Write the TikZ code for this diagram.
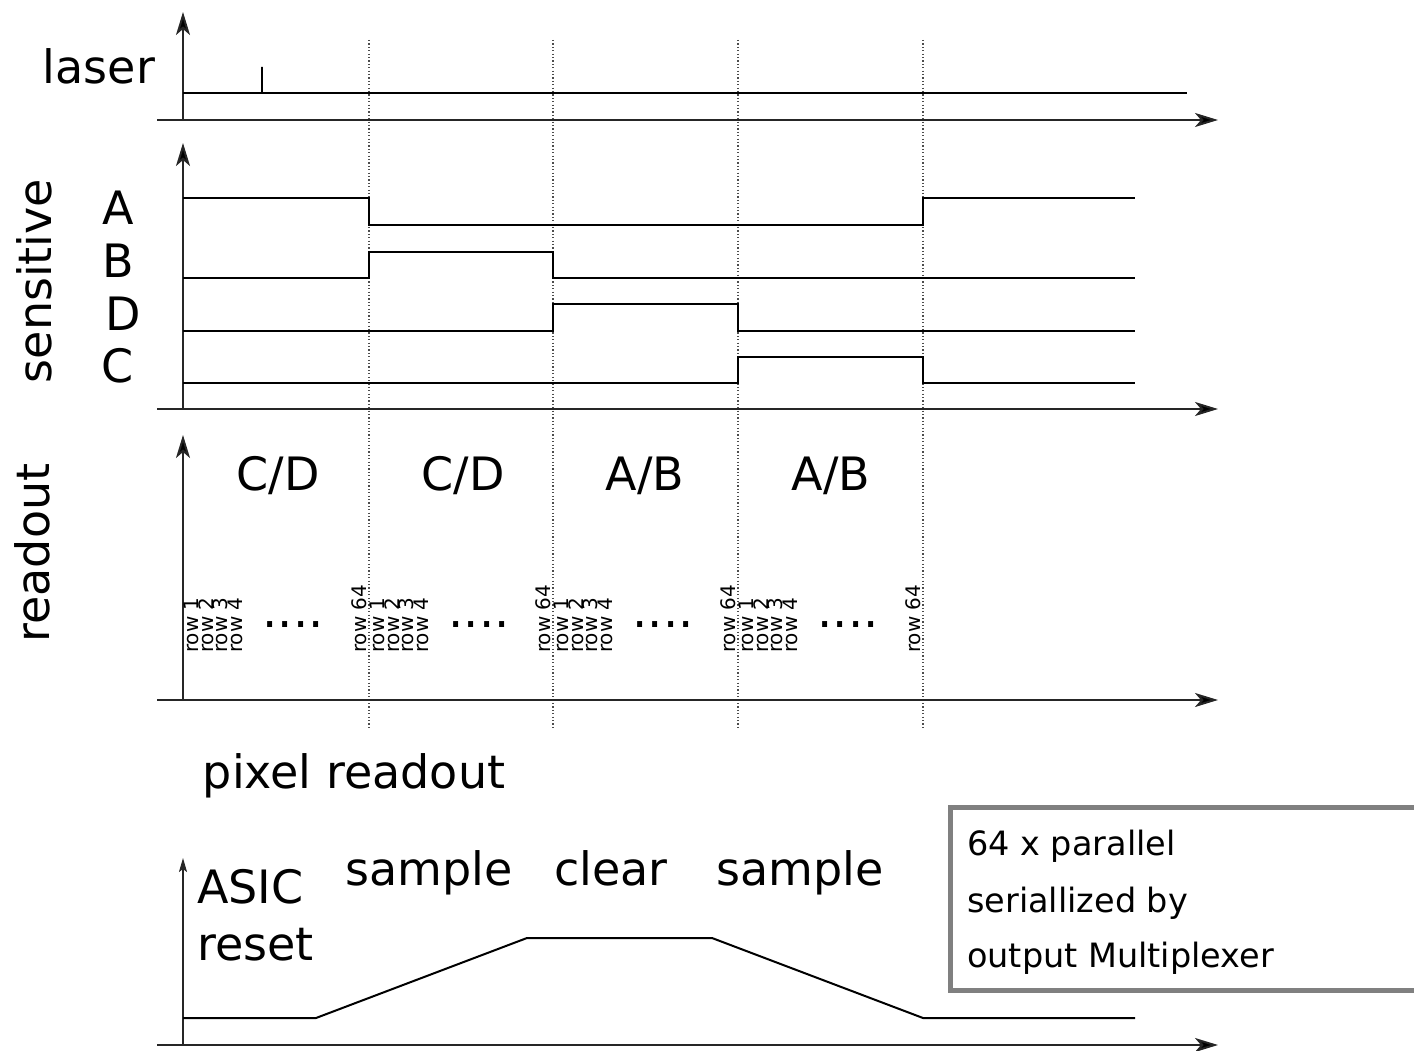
\documentclass[tikz,border=0pt]{standalone}
\usepackage{fontspec}
\setmainfont{DejaVu Sans}
\usetikzlibrary{arrows.meta}
\begin{document}
\begin{tikzpicture}[x=1pt, y=-1pt,
    axis/.style = {line width=2pt, draw=black!85, -{Stealth[length=23pt, width=14pt, inset=6pt, fill=black]}},
    smallaxis/.style = {line width=2pt, draw=black!85, -{Stealth[length=14pt, width=8pt, inset=3pt, fill=black]}},
    sig/.style = {line width=2pt},
    tmark/.style = {line width=1.2pt, black!70, dash pattern=on 1.2pt off 2.2pt},
    big/.style = {font=\fontsize{46}{54}\selectfont, inner sep=0pt, anchor=base},
    rowlbl/.style = {font=\fontsize{20}{24}\selectfont, rotate=90, anchor=west, inner sep=0pt},
    note/.style = {font=\fontsize{33.5}{40}\selectfont, anchor=base west, inner sep=0pt}]
      \useasboundingbox (0,0) rectangle (1414,1051);
      \foreach \t in {369,553,738,923}
        \draw[tmark] (\t,40) -- (\t,727);

      \draw[axis] (157,120) -- (1218,120);
      \draw[axis] (183,120) -- (183,12);
      \draw[sig] (183,93) -- (262,93) -- (262,67) -- (262,93) -- (1187,93);
      \node[big] (laser) at (99,84) {laser};

      \draw[axis] (157,409) -- (1218,409);
      \draw[axis] (183,409) -- (183,143);
      \draw[sig] (183,198) -| (369,225) -| (923,198) -- (1135,198);
      \draw[sig] (183,278) -| (369,252) -| (553,278) -- (1135,278);
      \draw[sig] (183,331) -| (553,304) -| (738,331) -- (1135,331);
      \draw[sig] (183,383) -| (738,357) -| (923,383) -- (1135,383);
      \node[big] (A) at (118,225) {A};
      \node[big] (B) at (118,277) {B};
      \node[big] (D) at (123,330) {D};
      \node[big] (C) at (118,382) {C};
      \node[big, anchor=center, rotate=90] (sens) at (34,281) {sensitive};

      \draw[axis] (157,700) -- (1218,700);
      \draw[axis] (183,700) -- (183,435);
      \node[big] (cd1) at (278,490) {C/D};
      \node[big] (cd2) at (463,490) {C/D};
      \node[big] (ab1) at (645,490) {A/B};
      \node[big] (ab2) at (831,490) {A/B};
      \node[big, anchor=center, rotate=90] (rd) at (32,553) {readout};
      \foreach \s/\e in {183/369, 369/553, 553/738, 738/923} {
        \node[rowlbl] (r1-\s) at (\s+8,653) {row 1};
        \node[rowlbl] (r2-\s) at (\s+23,653) {row 2};
        \node[rowlbl] (r3-\s) at (\s+37,653) {row 3};
        \node[rowlbl] (r4-\s) at (\s+52,653) {row 4};
        \node[big, font=\fontsize{48}{54}\selectfont] (dots-\s) at (\s+110,627) {....};
        \node[rowlbl] (r64-\s) at (\e-10,653) {row 64};
      }

      \node[big] (pix) at (354,788) {pixel readout};

      \draw[axis] (157,1045) -- (1218,1045);
      \draw[smallaxis] (183,1045) -- (183,858);
      \draw[sig] (183,1018) -- (316,1018) -- (527,938) -- (712,938) -- (923,1018) -- (1135,1018);
      \node[big, anchor=base west] (asic) at (197,903) {ASIC};
      \node[big, anchor=base west] (reset) at (197,960) {reset};
      \node[big] (smp1) at (429,885) {sample};
      \node[big] (clr) at (611,885) {clear};
      \node[big] (smp2) at (800,885) {sample};

      \draw[draw=black!50, line width=5pt] (950,807) rectangle (1425,990);
      \node[note] (n1) at (967,855) {64 x parallel};
      \node[note] (n2) at (967,912) {seriallized by};
      \node[note] (n3) at (967,967) {output Multiplexer};
    \end{tikzpicture}
\end{document}
